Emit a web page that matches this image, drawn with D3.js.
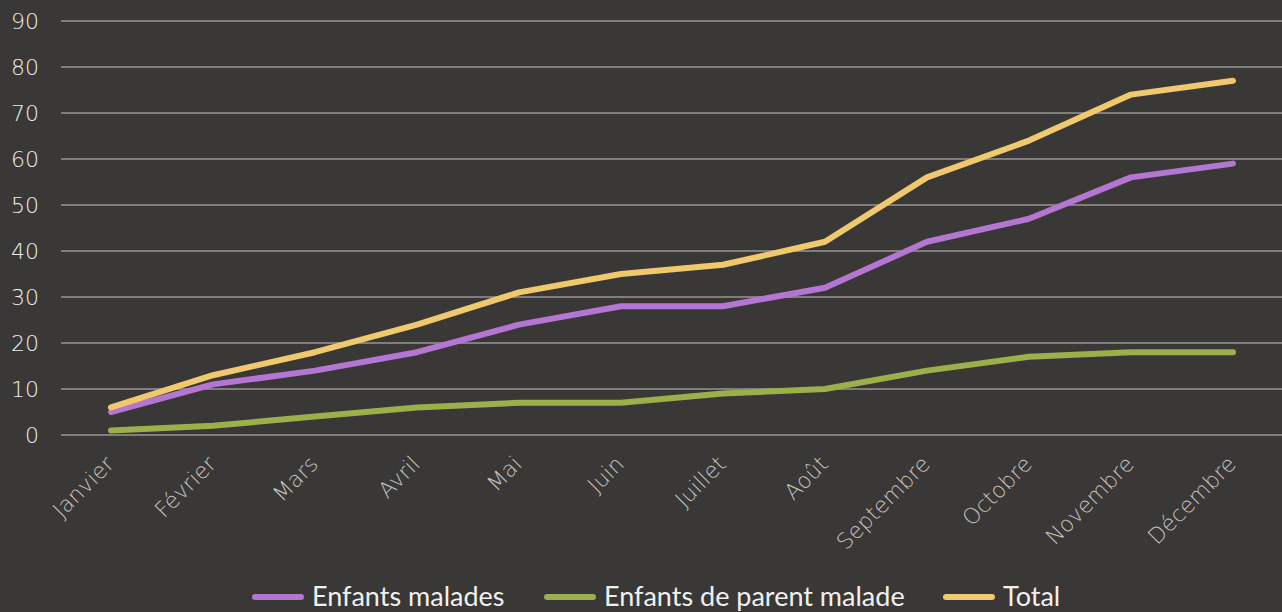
<!DOCTYPE html>
<html>
<head>
<meta charset="utf-8">
<script src="https://cdn.jsdelivr.net/npm/d3@7"></script>
<style>
    body { margin: 0; background: #393836; }
    svg { display: block; }
</style>
</head>
<body>
<div id="container"></div>
<script>
// chart data
var months = ['Janvier', 'Février', 'Mars', 'Avril', 'Mai', 'Juin', 'Juillet', 'Août', 'Septembre', 'Octobre', 'Novembre', 'Décembre']
var enfantsMalades = [5, 11, 14, 18, 24, 28, 28, 32, 42, 47, 56, 59]
var enfantsParent = [1, 2, 4, 6, 7, 7, 9, 10, 14, 17, 18, 18]
var total = [6, 13, 18, 24, 31, 35, 37, 42, 56, 64, 74, 77]
var seriesNames = ['Enfants malades', 'Enfants de parent malade', 'Total']
var yTicks = [0, 10, 20, 30, 40, 50, 60, 70, 80, 90]

var colors = ['#b476d2', '#9bb04b', '#f0c86e']

var width = 1282,
    height = 612

var thinFont = '"DejaVu Sans ExtraLight", "DejaVu Sans", sans-serif'

var svg = d3
    .select('#container')
    .append('svg')
    .attr('width', width)
    .attr('height', height)
    .style('background', '#393836')

var x = d3.scalePoint().domain(months).range([111, 1233])
var y = d3.scaleLinear().domain([0, 90]).range([435, 21])

// gridlines
svg
    .append('g')
    .selectAll('line')
    .data(yTicks)
    .enter()
    .append('line')
    .attr('x1', 61)
    .attr('x2', width)
    .attr('y1', function(d) { return y(d) })
    .attr('y2', function(d) { return y(d) })
    .style('stroke', '#7f7e7c')
    .style('stroke-width', 2)

// y labels
svg
    .append('g')
    .selectAll('text')
    .data(yTicks)
    .enter()
    .append('text')
    .attr('x', 39)
    .attr('y', function(d) { return y(d) })
    .attr('dy', '.35em')
    .attr('text-anchor', 'end')
    .style('font-family', thinFont)
    .style('font-weight', 200)
    .style('font-size', '22px')
    .style('fill', '#ececec')
    .text(function(d) { return d })

// x labels, rotated
svg
    .append('g')
    .selectAll('text')
    .data(months)
    .enter()
    .append('text')
    .attr('text-anchor', 'end')
    .attr('transform', function(d) {
        return 'translate(' + (x(d) - 1) + ',460) rotate(-45)'
    })
    .attr('dy', '.35em')
    .style('font-family', thinFont)
    .style('font-weight', 200)
    .style('font-size', '22px')
    .style('fill', '#c4c3c1')
    .text(function(d) { return d })

// lines
var allSeries = [enfantsMalades, enfantsParent, total]
var line = d3
    .line()
    .x(function(d, i) { return x(months[i]) })
    .y(function(d) { return y(d) })

svg
    .append('g')
    .selectAll('path')
    .data(allSeries)
    .enter()
    .append('path')
    .attr('d', line)
    .style('fill', 'none')
    .style('stroke', function(d, i) { return colors[i] })
    .style('stroke-width', 6)
    .style('stroke-linecap', 'round')
    .style('stroke-linejoin', 'round')

// legend
var legendX = [255, 547, 946]
var legend = svg
    .append('g')
    .selectAll('g')
    .data(seriesNames)
    .enter()
    .append('g')
    .attr('transform', function(d, i) { return 'translate(' + legendX[i] + ',597)' })

legend
    .append('line')
    .attr('x1', 0)
    .attr('x2', 46)
    .style('stroke', function(d, i) { return colors[i] })
    .style('stroke-width', 6)
    .style('stroke-linecap', 'round')

legend
    .append('text')
    .attr('x', 57)
    .attr('dy', '.35em')
    .style('font-family', '"Liberation Sans Narrow", Lato, sans-serif')
    .style('font-size', '27px')
    .style('fill', '#f0f0f0')
    .text(function(d) { return d })
</script>
</body>
</html>
